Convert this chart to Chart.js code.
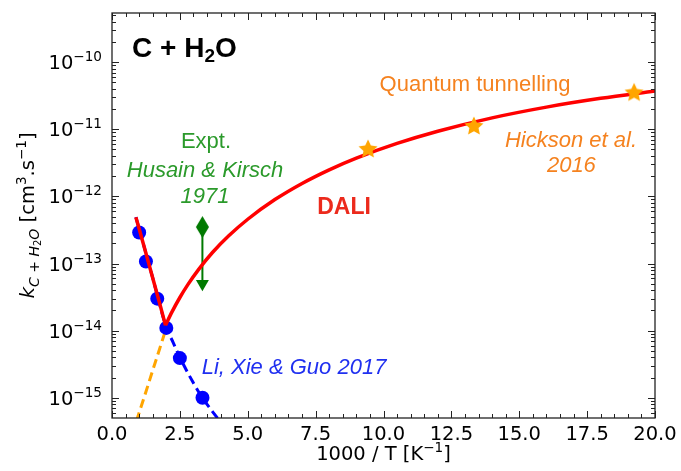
<!DOCTYPE html>
<html>
<head>
<meta charset="utf-8">
<script src="https://cdn.jsdelivr.net/npm/chart.js@4/dist/chart.umd.min.js"></script>
<style>
  html, body { margin: 0; padding: 0; background: #fff; }
  #wrap { width: 681px; height: 471px; }
</style>
</head>
<body>
<div id="wrap"><canvas id="rateChart"></canvas></div>
<script>
// values: x = 1000/T [1/K], k in cm3/s
const dotsX = [1.0, 1.25, 1.667, 2.0, 2.5, 3.333];
const dotsK = [2.9e-13, 1.07e-13, 3.0e-14, 1.1e-14, 3.9e-15, 1.0e-15];

const starsX = [9.43, 13.33, 19.23];
const starsK = [5.1e-12, 1.12e-11, 3.54e-11];

const daliLowX = [0.88, 1.0, 1.25, 1.5, 1.75, 1.97];
const daliLowK = [4.9e-13, 3.3e-13, 1.42e-13, 6.1e-14, 2.6e-14, 1.2e-14];

const daliHighX = [1.97, 2.2, 2.5, 2.8, 3.2, 3.7, 4.3, 5.0, 6.0, 7.0, 8.0, 9.0, 10.5, 12.0, 14.0, 16.0, 18.0, 20.0];
const daliHighK = [1.2e-14, 1.87e-14, 3.12e-14, 4.89e-14, 8.26e-14, 1.46e-13, 2.59e-13, 4.57e-13, 8.97e-13, 1.56e-12, 2.49e-12, 3.72e-12, 6.15e-12, 9.35e-12, 1.48e-11, 2.14e-11, 2.89e-11, 3.72e-11];

const liFitX = [0.88, 1.25, 1.5, 2.0, 2.25, 2.5, 3.0, 3.33, 3.95];
const liFitK = [4.9e-13, 1.42e-13, 6.1e-14, 1.12e-14, 6.7e-15, 4.0e-15, 1.66e-15, 1.0e-15, 4.6e-16];

const tunnelX = [0.9, 1.25, 1.5, 1.75, 2.0];
const tunnelK = [4.5e-16, 1.23e-15, 2.57e-15, 5.3e-15, 1.1e-14];

const exptX = [3.33, 3.33];
const exptK = [3.5e-13, 5.0e-14];

const xTickValues = [0, 2.5, 5, 7.5, 10, 12.5, 15, 17.5, 20];
const yTickExponents = [-15, -14, -13, -12, -11, -10];

function pts(xs, ks) {
    return xs.map((x, i) => ({ x: x, y: ks[i] }));
}

// filled marker shapes for pointStyle
function starMarker(r, color) {
    const c = document.createElement('canvas');
    c.width = c.height = 2 * r + 2;
    const g = c.getContext('2d');
    g.translate(r + 1, r + 1.5);
    g.beginPath();
    for (let i = 0; i < 10; i++) {
        const rad = i % 2 === 0 ? r : r * 0.48;
        const ang = -Math.PI / 2 + i * Math.PI / 5;
        g.lineTo(rad * Math.cos(ang), rad * Math.sin(ang));
    }
    g.closePath();
    g.fillStyle = color;
    g.fill();
    return c;
}

function diamondMarker(w, h, color) {
    const c = document.createElement('canvas');
    c.width = w + 2;
    c.height = h + 2;
    const g = c.getContext('2d');
    g.beginPath();
    g.moveTo(w / 2 + 1, 1);
    g.lineTo(w + 1, h / 2 + 1);
    g.lineTo(w / 2 + 1, h + 1);
    g.lineTo(1, h / 2 + 1);
    g.closePath();
    g.fillStyle = color;
    g.fill();
    return c;
}

const BASE = '"DejaVu Sans"';
const HELV = '"Liberation Sans", Arial, sans-serif';

// text runs: [text, font, vertical offset]
function drawRuns(ctx, runs, x, y, align) {
    let total = 0;
    runs.forEach(r => { ctx.font = r[1]; total += ctx.measureText(r[0]).width; });
    let cx = align === 'center' ? x - total / 2 : align === 'right' ? x - total : x;
    ctx.textAlign = 'left';
    ctx.textBaseline = 'alphabetic';
    runs.forEach(r => {
        ctx.font = r[1];
        ctx.fillText(r[0], cx, y + (r[2] || 0));
        cx += ctx.measureText(r[0]).width;
    });
}

const notes = [
    { fx: 0.037, fy: 0.891, align: 'left', color: '#000',
      runs: [['C + H', 'bold 28px ' + HELV], ['2', 'bold 19px ' + HELV, 5], ['O', 'bold 28px ' + HELV]] },
    { fx: 0.6685, fy: 0.808, align: 'center', color: '#f5821f', runs: [['Quantum tunnelling', '22px ' + HELV]] },
    { fx: 0.8453, fy: 0.670, align: 'center', color: '#f5821f', runs: [['Hickson et al.', 'italic 22px ' + HELV]] },
    { fx: 0.846, fy: 0.608, align: 'center', color: '#f5821f', runs: [['2016', 'italic 22px ' + HELV]] },
    { fx: 0.4273, fy: 0.5037, align: 'center', color: '#ec2a1c', runs: [['DALI', 'bold 23px ' + HELV]] },
    { fx: 0.1731, fy: 0.666, align: 'center', color: '#2b9a2b', runs: [['Expt.', '22px ' + HELV]] },
    { fx: 0.1713, fy: 0.5958, align: 'center', color: '#2b9a2b', runs: [['Husain & Kirsch', 'italic 22px ' + HELV]] },
    { fx: 0.1713, fy: 0.530, align: 'center', color: '#2b9a2b', runs: [['1971', 'italic 22px ' + HELV]] },
    { fx: 0.1652, fy: 0.1086, align: 'left', color: '#2030f0', runs: [['Li, Xie & Guo 2017', 'italic 22px ' + HELV]] }
];

const axesDecor = {
    id: 'axesDecor',
    afterDraw(chart) {
        const { ctx, chartArea: a, scales: { x, y } } = chart;
        ctx.save();
        ctx.strokeStyle = '#222';
        ctx.lineWidth = 1;

        // inward ticks on all four sides
        function xTick(v, len) {
            const px = Math.round(x.getPixelForValue(v)) + 0.5;
            ctx.beginPath();
            ctx.moveTo(px, a.bottom); ctx.lineTo(px, a.bottom - len);
            ctx.moveTo(px, a.top); ctx.lineTo(px, a.top + len);
            ctx.stroke();
        }
        function yTick(v, len) {
            const py = Math.round(y.getPixelForValue(v)) + 0.5;
            if (py < a.top || py > a.bottom) return;
            ctx.beginPath();
            ctx.moveTo(a.left, py); ctx.lineTo(a.left + len, py);
            ctx.moveTo(a.right, py); ctx.lineTo(a.right - len, py);
            ctx.stroke();
        }
        for (let v = 0; v <= 20; v += 0.5) {
            xTick(v, xTickValues.includes(v) ? 7 : 4);
        }
        for (let e = -16; e <= -10; e++) {
            yTick(Math.pow(10, e), 7);
            for (let m = 2; m <= 9; m++) yTick(m * Math.pow(10, e), 4);
        }

        ctx.lineWidth = 1.3;
        ctx.strokeRect(a.left, a.top, a.width, a.height);

        // tick labels
        ctx.fillStyle = '#000';
        xTickValues.forEach(v => {
            drawRuns(ctx, [[v.toFixed(1), '19.5px ' + BASE]], x.getPixelForValue(v), a.bottom + 22, 'center');
        });
        yTickExponents.forEach(e => {
            const py = y.getPixelForValue(Math.pow(10, e));
            drawRuns(ctx, [['10', '19.5px ' + BASE], ['\u2212' + Math.abs(e), '13.6px ' + BASE, -8]], a.left - 10, py + 7, 'right');
        });

        // axis titles
        drawRuns(ctx, [['1000 / T [K', '19.5px ' + BASE], ['\u22121', '13.6px ' + BASE, -8], [']', '19.5px ' + BASE]],
            (a.left + a.right) / 2, 460, 'center');

        ctx.save();
        ctx.translate(34, (a.top + a.bottom) / 2);
        ctx.rotate(-Math.PI / 2);
        drawRuns(ctx, [
            ['k', 'italic 20px ' + BASE],
            ['C + H', 'italic 14px ' + BASE, 4.5],
            ['2', '10px ' + BASE, 7],
            ['O', 'italic 14px ' + BASE, 4.5],
            [' [cm', '19.5px ' + BASE],
            ['3', '13.6px ' + BASE, -8],
            ['.s', '19.5px ' + BASE],
            ['\u22121', '13.6px ' + BASE, -8],
            [']', '19.5px ' + BASE]
        ], 0, 0, 'center');
        ctx.restore();

        // annotations, placed in axes fractions
        notes.forEach(n => {
            ctx.fillStyle = n.color;
            drawRuns(ctx, n.runs, a.left + n.fx * a.width, a.bottom - n.fy * a.height, n.align);
        });
        ctx.restore();
    }
};

const canvas = document.getElementById('rateChart');
canvas.width = 681;
canvas.height = 471;

new Chart(canvas, {
    type: 'scatter',
    data: {
        datasets: [
            {
                label: 'Hickson et al. 2016',
                data: pts(starsX, starsK),
                pointStyle: starMarker(10, '#ffa500'),
                pointRadius: 10
            },
            {
                label: 'DALI (low T)',
                data: pts(daliHighX, daliHighK),
                showLine: true,
                borderColor: '#ff0000',
                borderWidth: 3.5,
                pointRadius: 0,
                cubicInterpolationMode: 'monotone'
            },
            {
                label: 'DALI (high T)',
                data: pts(daliLowX, daliLowK),
                showLine: true,
                borderColor: '#ff0000',
                borderWidth: 3.5,
                pointRadius: 0
            },
            {
                label: 'Li, Xie & Guo 2017',
                data: pts(dotsX, dotsK),
                backgroundColor: '#0000ff',
                borderColor: '#0000ff',
                pointRadius: 7,
                borderWidth: 0
            },
            {
                label: 'Li fit',
                data: pts(liFitX, liFitK),
                showLine: true,
                borderColor: '#0000ff',
                borderWidth: 3,
                borderDash: [9, 5],
                pointRadius: 0,
                cubicInterpolationMode: 'monotone'
            },
            {
                label: 'Tunnelling extrapolation',
                data: pts(tunnelX, tunnelK),
                showLine: true,
                borderColor: '#ffa500',
                borderWidth: 3,
                borderDash: [9, 5],
                pointRadius: 0
            },
            {
                label: 'Husain & Kirsch 1971',
                data: pts(exptX, exptK),
                showLine: true,
                borderColor: '#007a00',
                backgroundColor: '#007a00',
                borderWidth: 2,
                pointStyle: [diamondMarker(13, 22, '#007a00'), 'triangle'],
                rotation: [0, 180],
                pointRadius: [11, 7.5],
                pointBorderWidth: 0
            }
        ]
    },
    options: {
        responsive: false,
        animation: false,
        events: [],
        layout: { padding: { left: 0, top: 13, right: 26, bottom: 0 } },
        plugins: {
            legend: { display: false },
            tooltip: { enabled: false },
            title: { display: false }
        },
        scales: {
            x: {
                type: 'linear',
                min: 0,
                max: 20,
                ticks: { display: false, stepSize: 2.5 },
                grid: { display: false },
                border: { display: false },
                afterFit(scale) { scale.height = 53; }
            },
            y: {
                type: 'logarithmic',
                min: 5e-16,
                max: 5.4e-10,
                ticks: { display: false },
                grid: { display: false },
                border: { display: false },
                afterFit(scale) { scale.width = 112; }
            }
        }
    },
    plugins: [axesDecor]
});
</script>
</body>
</html>
